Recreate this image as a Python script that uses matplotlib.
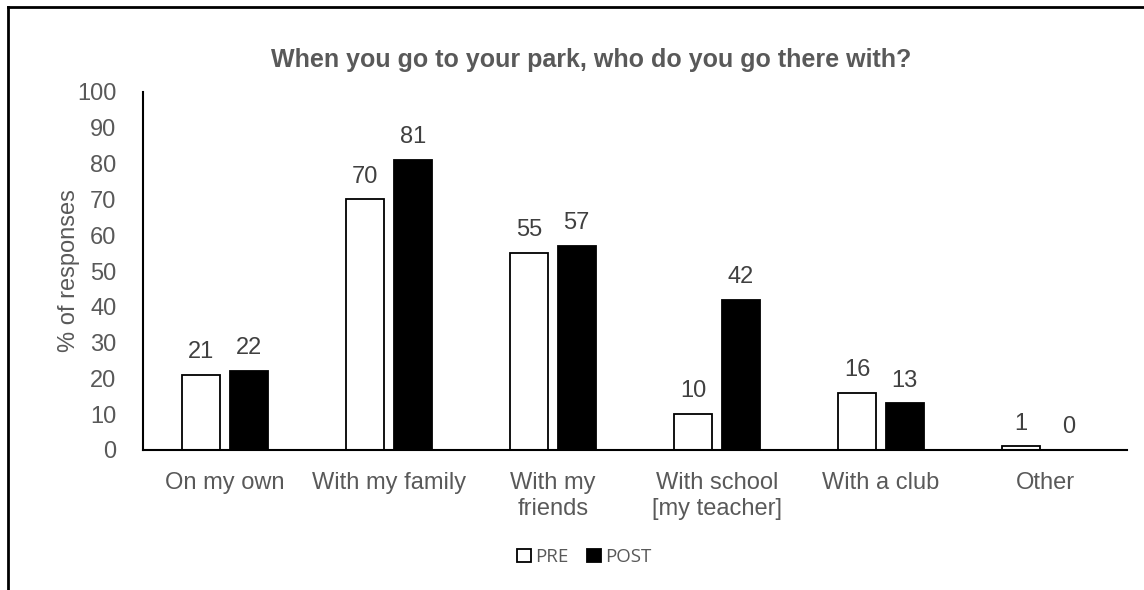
import matplotlib.pyplot as plt
from matplotlib.lines import Line2D
import numpy as np

categories = ['On my own', 'With my family', 'With my\nfriends',
              'With school\n[my teacher]', 'With a club', 'Other']
pre = [21, 70, 55, 10, 16, 1]
post = [22, 81, 57, 42, 13, 0]
yticks = list(range(0, 101, 10))

plt.rcParams['font.family'] = ['Liberation Sans', 'DejaVu Sans']

fig = plt.figure(figsize=(11.44, 5.9), dpi=100)
ax = fig.add_axes([143 / 1144, 1 - 450 / 590, (1127 - 143) / 1144, (450 - 92) / 590])

x = np.arange(len(categories))
w = 0.23
off = 0.145
b1 = ax.bar(x - off, pre, w, color='white', edgecolor='black', linewidth=1.3, label='PRE')
b2 = ax.bar(x + off, post, w, color='black', edgecolor='black', linewidth=1.3, label='POST')

for bars in (b1, b2):
    for r in bars:
        ax.text(r.get_x() + r.get_width() / 2, r.get_height() + 3.3, str(int(r.get_height())),
                ha='center', va='bottom', fontsize=17, color='#404040')

ax.set_xlim(-0.5, len(categories) - 0.5)
ax.set_ylim(0, 100)
ax.set_yticks(yticks)
ax.set_xticks(x)
ax.set_xticklabels(categories)
ax.tick_params(axis='both', length=0, labelsize=17, labelcolor='#595959')
ax.tick_params(axis='x', pad=16)
ax.tick_params(axis='y', pad=19)
for s in ['top', 'right']:
    ax.spines[s].set_visible(False)
for s in ['left', 'bottom']:
    ax.spines[s].set_linewidth(1.5)

ax.set_ylabel('% of responses', fontsize=17, color='#595959', labelpad=-2)
fig.text(591 / 1144, 1 - 60 / 590, 'When you go to your park, who do you go there with?',
         ha='center', va='center', fontsize=18, fontweight='bold', color='#595959')

leg = fig.legend(loc='center', bbox_to_anchor=(584 / 1144, 1 - 557 / 590), ncol=2,
                 frameon=False, handlelength=0.75, handleheight=0.75,
                 handletextpad=0.2, columnspacing=1.0,
                 prop={'family': 'Open Sans', 'size': 13.5})
for t in leg.get_texts():
    t.set_color('#595959')

# outer frame (cut off at right and bottom)
fig.add_artist(Line2D([8 / 1144, 8 / 1144], [0, 1 - 7 / 590], color='black', lw=2))
fig.add_artist(Line2D([8 / 1144, 1], [1 - 7 / 590, 1 - 7 / 590], color='black', lw=2))

plt.savefig('out.png')
plt.close()
